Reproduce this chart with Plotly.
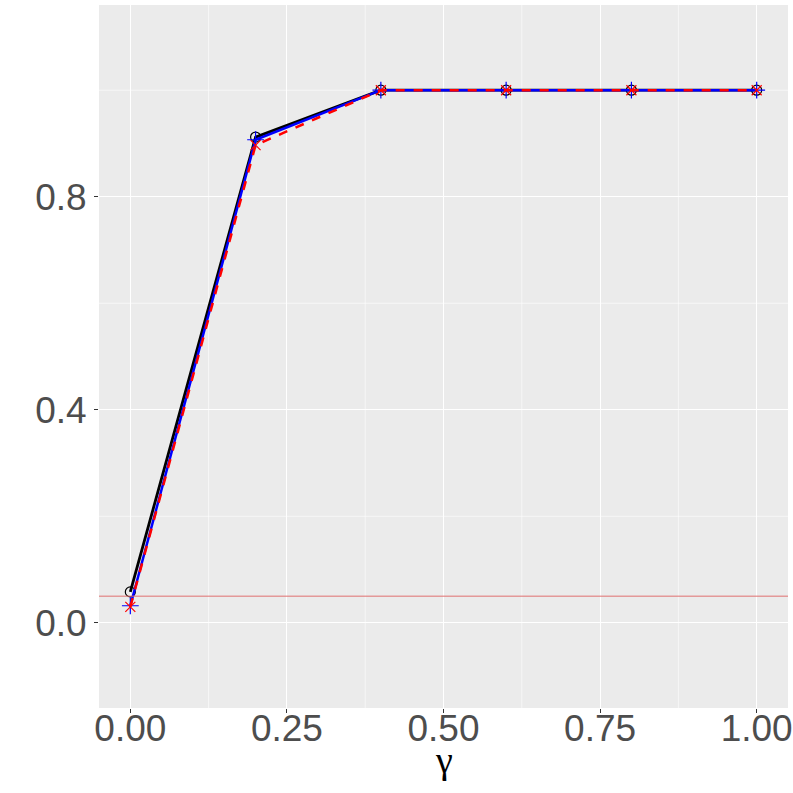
import plotly.graph_objects as go

gamma = [0.0, 0.2, 0.4, 0.6, 0.8, 1.0]
black_vals = [0.058, 0.912, 1.0, 1.0, 1.0, 1.0]
blue_vals = [0.032, 0.907, 1.0, 1.0, 1.0, 1.0]
red_vals = [0.030, 0.897, 1.0, 1.0, 1.0, 1.0]
ref_level = 0.05
y_ticks = [0.0, 0.4, 0.8]
x_ticks = [0.0, 0.25, 0.5, 0.75, 1.0]

fig = go.Figure()
fig.add_trace(go.Scatter(x=gamma, y=black_vals, mode="lines+markers",
                         line=dict(color="black", width=2.8),
                         marker=dict(symbol="circle-open", size=10, color="black", line=dict(width=1.2))))
fig.add_trace(go.Scatter(x=gamma, y=blue_vals, mode="lines+markers",
                         line=dict(color="blue", width=2.5),
                         marker=dict(symbol="cross-thin-open", size=12, color="blue", line=dict(width=1.2, color="blue"))))
fig.add_trace(go.Scatter(x=gamma, y=red_vals, mode="lines+markers",
                         line=dict(color="red", width=2.5, dash="dash"),
                         marker=dict(symbol="x-thin-open", size=10, color="red", line=dict(width=1.2, color="red"))))
fig.add_hline(y=ref_level, line=dict(color="#E07070", width=1))

minor_y = [-0.2, 0.2, 0.6, 1.0]
minor_x = [0.125, 0.375, 0.625, 0.875]
for v in minor_y:
    fig.add_shape(type="line", xref="paper", x0=0, x1=1, y0=v, y1=v, yref="y",
                  line=dict(color="white", width=0.6), layer="below")
for v in minor_x:
    fig.add_shape(type="line", yref="paper", y0=0, y1=1, x0=v, x1=v, xref="x",
                  line=dict(color="white", width=0.6), layer="below")

fig.add_annotation(text="γ", xref="paper", yref="paper", x=0.5, y=-0.074,
                   xanchor="center", yanchor="middle", showarrow=False,
                   font=dict(size=38, color="black", family="Liberation Serif, serif"))

fig.update_layout(
    width=793, height=793,
    margin=dict(l=99, r=5, t=5, b=85),
    plot_bgcolor="#EBEBEB", paper_bgcolor="white",
    showlegend=False,
    font=dict(family="Liberation Sans, Arial, sans-serif"),
    xaxis=dict(range=[-0.05, 1.05], tickvals=x_ticks, ticktext=["0.00", "0.25", "0.50", "0.75", "1.00"],
               showgrid=True, gridcolor="white", gridwidth=1.2, zeroline=False,
               tickfont=dict(size=37, color="#4D4D4D"), ticks="outside", ticklen=4, tickcolor="#333333",
               ticklabelstandoff=-16, automargin=False, ticklabeloverflow="allow"),
    yaxis=dict(range=[-0.16, 1.16], tickvals=y_ticks, ticktext=["0.0", "0.4", "0.8"],
               showgrid=True, gridcolor="white", gridwidth=1.2, zeroline=False,
               tickfont=dict(size=37, color="#4D4D4D"), ticks="outside", ticklen=4, tickcolor="#333333",
               automargin=False),
)
fig.write_html("out.html", post_script="document.body.style.margin='0';",
               config={"displayModeBar": False})
